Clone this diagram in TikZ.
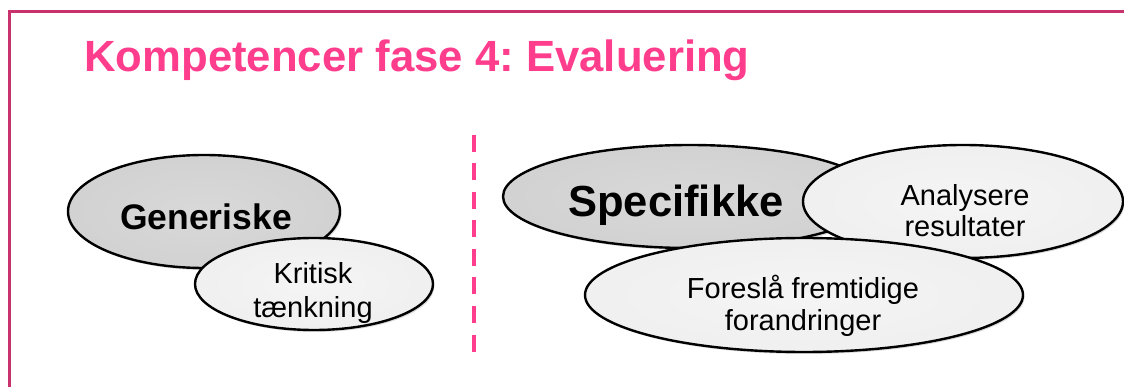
\documentclass[tikz,border=0pt]{standalone}
\usepackage{fontspec}
\setmainfont{Liberation Sans}
\frenchspacing
\usetikzlibrary{shapes.geometric,shadows}
\definecolor{titlepink}{HTML}{FF3D8D}
\definecolor{framepink}{HTML}{C8336E}
\pgfdeclareradialshading{darkshade}{\pgfpoint{0bp}{0bp}}{rgb(0bp)=(.85,.85,.85); rgb(36bp)=(.81,.81,.81); rgb(45bp)=(.70,.70,.70); rgb(50bp)=(.50,.50,.50)}
\pgfdeclareradialshading{lightshade}{\pgfpoint{0bp}{0bp}}{rgb(0bp)=(.96,.96,.96); rgb(36bp)=(.93,.93,.93); rgb(45bp)=(.83,.83,.83); rgb(50bp)=(.64,.64,.64)}
\tikzset{
	oval/.style = {ellipse, draw = black, line width = 2.4pt, inner sep = 0pt,
		drop shadow = {shadow xshift = 1.5pt, shadow yshift = -2pt, opacity = .3}},
	darkoval/.style = {oval, shading = darkshade},
	lightoval/.style = {oval, shading = lightshade},
	bigtext/.style = {font = \fontsize{#1}{#1}\bfseries\selectfont, inner sep = 0pt, anchor = base},
	smalltext/.style = {font = \fontsize{29}{#1}\selectfont, align = center, inner sep = 0pt, anchor = base}
}
\begin{document}
\begin{tikzpicture}[x = 1pt, y = -1pt]
	\useasboundingbox (0,0) rectangle (1124,387);
	\draw[framepink, line width = 3pt] (1130,12) -- (9,12) -- (9,392); %frame
	\node[anchor = base west, inner sep = 0pt, text = titlepink, font = \fontsize{43.7}{50}\bfseries\selectfont] (title) at (84,72) {Kompetencer fase 4: Evaluering};
	\draw[titlepink, line width = 3.5pt, dash pattern = on 17pt off 11.5pt] (474,135) -- (474,352); %separator
	% generic side
	\node[darkoval, minimum width = 272pt, minimum height = 113pt] (gen) at (204,211.5) {};
	\node[bigtext = 35.5] (genT) at (206,230) {Generiske};
	\node[lightoval, minimum width = 238pt, minimum height = 92pt] (krit) at (314,284) {};
	\node[smalltext = 34] (kritT) at (313,317) {Kritisk\\tænkning}; %base = last line
	% specific side
	\node[darkoval, minimum width = 374pt, minimum height = 103pt] (spec) at (690,196.5) {};
	\node[bigtext = 43.5] (specT) at (676,217) {Specifikke};
	\node[lightoval, minimum width = 320pt, minimum height = 113pt] (anal) at (963,201.5) {};
	\node[smalltext = 32] (analT) at (965,237) {Analysere\\resultater};
	\node[lightoval, minimum width = 438pt, minimum height = 114pt] (fore) at (804,295) {};
	\node[smalltext = 32] (foreT) at (803,330) {Foreslå fremtidige\\forandringer};
\end{tikzpicture}
\end{document}
